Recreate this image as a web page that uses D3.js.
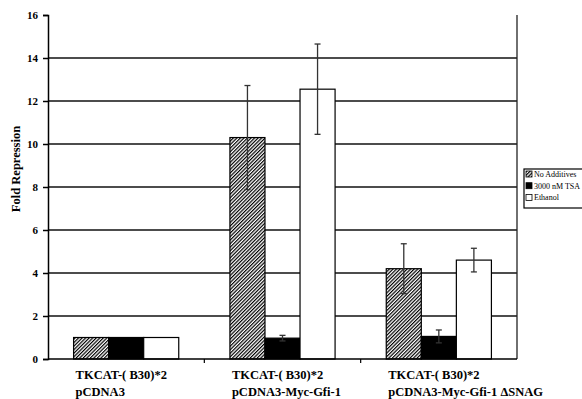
<!DOCTYPE html>
<html>
  <head>
    <meta http-equiv="Content-Type" content="text/html;charset=utf-8">
    <title>Fold Repression</title>
    <script type="text/javascript" src="https://d3js.org/d3.v7.min.js"></script>
    <style>
      body { margin: 0; background: #fff; }
      svg text { font-family: 'Liberation Serif', 'DejaVu Serif', serif; font-weight: bold; fill: #000; }
      .grid line { stroke: #111; stroke-width: 1.3px; }
      .tick-lbl { font-size: 11px; }
      .cat-lbl { font-size: 12.5px; }
      .legend text { font-size: 8px; font-weight: normal; fill: #000; }
    </style>
  </head>
  <body>
    <div id="chart"></div>
    <script>
// values
var categories = ["pCDNA3", "pCDNA3-Myc-Gfi-1", "pCDNA3-Myc-Gfi-1 \u0394SNAG"];
var series = ["No Additives", "3000 nM TSA", "Ethanol"];
var noAdditives = [1.0, 10.3, 4.2];
var tsa = [1.0, 0.97, 1.05];
var ethanol = [1.0, 12.55, 4.6];
var errNo = [0, 2.42, 1.16];
var errTsa = [0, 0.13, 0.3];
var errEth = [0, 2.1, 0.55];
var yTicks = [0, 2, 4, 6, 8, 10, 12, 14, 16];

var width = 582, height = 399;
var plotL = 48, plotR = 517, plotT = 15, plotB = 359;

var svg = d3.select("#chart").append("svg")
    .attr("width", width)
    .attr("height", height);

// hatch pattern for "No Additives"
var defs = svg.append("defs");
var pat = defs.append("pattern")
    .attr("id", "hatch")
    .attr("patternUnits", "userSpaceOnUse")
    .attr("width", 2.5).attr("height", 4)
    .attr("patternTransform", "rotate(45)");
pat.append("rect").attr("width", 2.5).attr("height", 4).attr("fill", "#fff");
pat.append("line").attr("x1", 0.6).attr("y1", 0).attr("x2", 0.6).attr("y2", 4)
    .attr("stroke", "#000").attr("stroke-width", 1.2);

var fills = ["url(#hatch)", "#000", "#fff"];
var vals = [noAdditives, tsa, ethanol];
var errs = [errNo, errTsa, errEth];

var y = d3.scaleLinear().domain([0, 16]).range([plotB, plotT]);
var x0 = d3.scaleBand().domain(categories).range([plotL, plotR]);
var x1 = d3.scaleBand().domain(series).range([0, x0.bandwidth()]).paddingOuter(0.73);

// gridlines (none at the top)
svg.append("g").attr("class", "grid")
  .selectAll("line")
  .data(yTicks.filter(function(d) { return d > 0 && d < 16; }))
  .enter().append("line")
    .attr("x1", plotL).attr("x2", plotR)
    .attr("y1", function(d) { return y(d); })
    .attr("y2", function(d) { return y(d); });

// right border
svg.append("line")
    .attr("x1", plotR).attr("x2", plotR).attr("y1", y(16)).attr("y2", plotB)
    .attr("stroke", "#222").attr("stroke-width", 1.3);

// y axis
var yAxis = svg.append("g")
    .attr("transform", "translate(" + plotL + ",0)")
    .call(d3.axisLeft(y).tickValues(yTicks).tickSize(5).tickPadding(5));
yAxis.attr("font-family", null).attr("font-size", null);
yAxis.select(".domain").attr("stroke", "#000").attr("stroke-width", 1.5);
yAxis.selectAll(".tick line").attr("stroke", "#000").attr("stroke-width", 1.5);
yAxis.selectAll("text").attr("class", "tick-lbl");

svg.append("text")
    .attr("transform", "translate(20,169) rotate(-90)")
    .attr("text-anchor", "middle")
    .style("font-size", "12.5px")
    .text("Fold Repression");

// bars
var groups = svg.selectAll(".grp")
    .data(categories)
  .enter().append("g")
    .attr("class", "grp")
    .attr("transform", function(d) { return "translate(" + x0(d) + ",0)"; });

function rows(d, i) {
  return series.map(function(s, j) { return {s: s, j: j, v: vals[j][i], e: errs[j][i]}; });
}

groups.selectAll("rect")
    .data(rows)
  .enter().append("rect")
    .attr("x", function(d) { return x1(d.s); })
    .attr("width", x1.bandwidth())
    .attr("y", function(d) { return y(d.v); })
    .attr("height", function(d) { return plotB - y(d.v); })
    .attr("fill", function(d) { return fills[d.j]; })
    .attr("stroke", "#000")
    .attr("stroke-width", 1.2);

// error bars
var eb = groups.selectAll(".err")
    .data(function(d, i) { return rows(d, i).filter(function(r) { return r.e > 0; }); })
  .enter().append("g").attr("class", "err")
    .attr("stroke", "#333").attr("stroke-width", 1.3);
function cx(d) { return x1(d.s) + x1.bandwidth() / 2; }
eb.append("line")
    .attr("x1", cx).attr("x2", cx)
    .attr("y1", function(d) { return y(d.v - d.e); })
    .attr("y2", function(d) { return y(d.v + d.e); });
eb.append("line")
    .attr("x1", function(d) { return cx(d) - 3; })
    .attr("x2", function(d) { return cx(d) + 3; })
    .attr("y1", function(d) { return y(d.v + d.e); })
    .attr("y2", function(d) { return y(d.v + d.e); });
eb.append("line")
    .attr("x1", function(d) { return cx(d) - 3; })
    .attr("x2", function(d) { return cx(d) + 3; })
    .attr("y1", function(d) { return y(d.v - d.e); })
    .attr("y2", function(d) { return y(d.v - d.e); });

// x axis
svg.append("line")
    .attr("x1", plotL).attr("x2", plotR).attr("y1", plotB).attr("y2", plotB)
    .attr("stroke", "#000").attr("stroke-width", 1.5);
svg.selectAll(".xtick")
    .data(categories.slice(1))
  .enter().append("line")
    .attr("x1", function(d) { return x0(d); })
    .attr("x2", function(d) { return x0(d); })
    .attr("y1", plotB).attr("y2", plotB + 4)
    .attr("stroke", "#000").attr("stroke-width", 1.2);

var lbl = svg.selectAll(".cat-lbl")
    .data(categories)
  .enter().append("text")
    .attr("class", "cat-lbl")
    .attr("x", function(d) { return x0(d) + x1("No Additives") + 2; })
    .attr("y", 379);
lbl.append("tspan").text("TKCAT-( B30)*2");
lbl.append("tspan")
    .attr("x", function(d) { return x0(d) + x1("No Additives") + 2; })
    .attr("dy", 17)
    .text(function(d) { return d; });

// legend
var lg = svg.append("g").attr("class", "legend").attr("transform", "translate(524,169)");
lg.append("rect").attr("width", 62).attr("height", 39)
    .attr("fill", "#fff").attr("stroke", "#000").attr("stroke-width", 1.2);
var li = lg.selectAll(".li")
    .data(series)
  .enter().append("g")
    .attr("transform", function(d, i) { return "translate(2," + (2 + i * 11.7) + ")"; });
li.append("rect").attr("width", 6).attr("height", 6)
    .attr("fill", function(d, i) { return fills[i]; })
    .attr("stroke", "#000").attr("stroke-width", 0.8);
li.append("text").attr("x", 8).attr("y", 6).text(function(d) { return d; });
    </script>
  </body>
</html>
